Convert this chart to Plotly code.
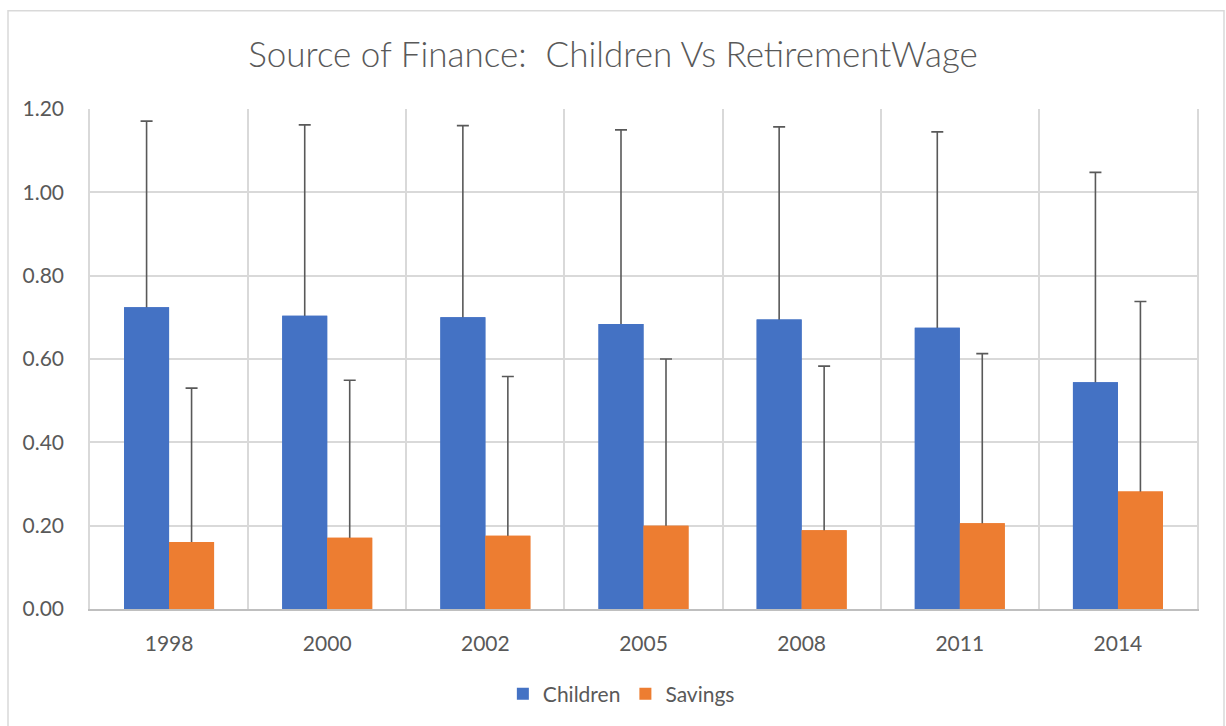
import plotly.graph_objects as go

years = ["1998", "2000", "2002", "2005", "2008", "2011", "2014"]
children = [0.724, 0.704, 0.700, 0.684, 0.695, 0.675, 0.544]
children_err = [0.447, 0.458, 0.460, 0.466, 0.462, 0.470, 0.504]
savings = [0.161, 0.171, 0.176, 0.200, 0.189, 0.206, 0.282]
savings_err = [0.369, 0.378, 0.382, 0.400, 0.394, 0.407, 0.456]
y_ticks = [0.0, 0.2, 0.4, 0.6, 0.8, 1.0, 1.2]

FONT = "Lato"
TXT = "#595959"
HIDE = 0.006  # tiny lower whisker, hidden under the bar

fig = go.Figure()
series = [
    ("Children", children, children_err, "#4472C4"),
    ("Savings", savings, savings_err, "#ED7D31"),
]
# error bars (upper only): drawn first, then covered by the bars themselves
for name, vals, errs, col in series:
    fig.add_trace(go.Bar(
        name=name, x=years, y=vals, offsetgroup=name, legendgroup=name,
        showlegend=False, hoverinfo="skip",
        marker=dict(color=col, line=dict(width=0)),
        error_y=dict(type="data", array=errs, symmetric=False,
                     arrayminus=[HIDE] * len(years), color="#595959",
                     thickness=1.6, width=6),
    ))
for name, vals, errs, col in series:
    fig.add_trace(go.Bar(
        name=name, x=years, y=vals, offsetgroup=name, legendgroup=name,
        showlegend=True,
        marker=dict(color=col, line=dict(width=0)),
    ))

fig.update_layout(
    width=1226, height=726,
    margin=dict(l=90, r=29, t=109, b=113),
    paper_bgcolor="white", plot_bgcolor="white",
    barmode="group", bargap=0.431, bargroupgap=0,
    title=dict(text="Source of Finance:  Children Vs RetirementWage",
               x=0.5, xref="container", xanchor="center",
               y=1 - 55 / 726, yref="container", yanchor="middle",
               font=dict(family=FONT, size=35, color=TXT, weight=300)),
    font=dict(family=FONT, color=TXT, size=20),
    legend=dict(orientation="h", x=0.48, xanchor="center", y=-0.17,
                yanchor="middle", font=dict(family=FONT, size=21, color=TXT),
                itemwidth=30, traceorder="normal"),
    showlegend=True,
)
fig.update_xaxes(
    type="category", tickson="boundaries", showgrid=True,
    gridcolor="#D9D9D9", gridwidth=1.5,
    showline=True, linecolor="#BFBFBF", linewidth=2,
    ticks="", ticklabelstandoff=15,
    tickfont=dict(family=FONT, size=21, color=TXT),
)
fig.update_yaxes(
    range=[0, 1.2], tickvals=y_ticks, tickformat=".2f",
    showgrid=True, gridcolor="#D9D9D9", gridwidth=1.5,
    showline=True, linecolor="#D9D9D9", linewidth=1.5, mirror=True,
    zeroline=False, ticks="", ticklabelstandoff=20,
    tickfont=dict(family=FONT, size=21, color=TXT),
)

fig.add_shape(type="rect", xref="paper", yref="paper",
              x0=(8 - 90) / 1107, x1=(1224 - 90) / 1107,
              y0=(613 - 740) / 504, y1=(613 - 10) / 504,
              line=dict(color="#D9D9D9", width=1.5), fillcolor="rgba(0,0,0,0)",
              layer="below")

fig.write_html("out.html", config={"displayModeBar": False},
               post_script="document.body.style.margin='0';document.body.style.padding='0';")
